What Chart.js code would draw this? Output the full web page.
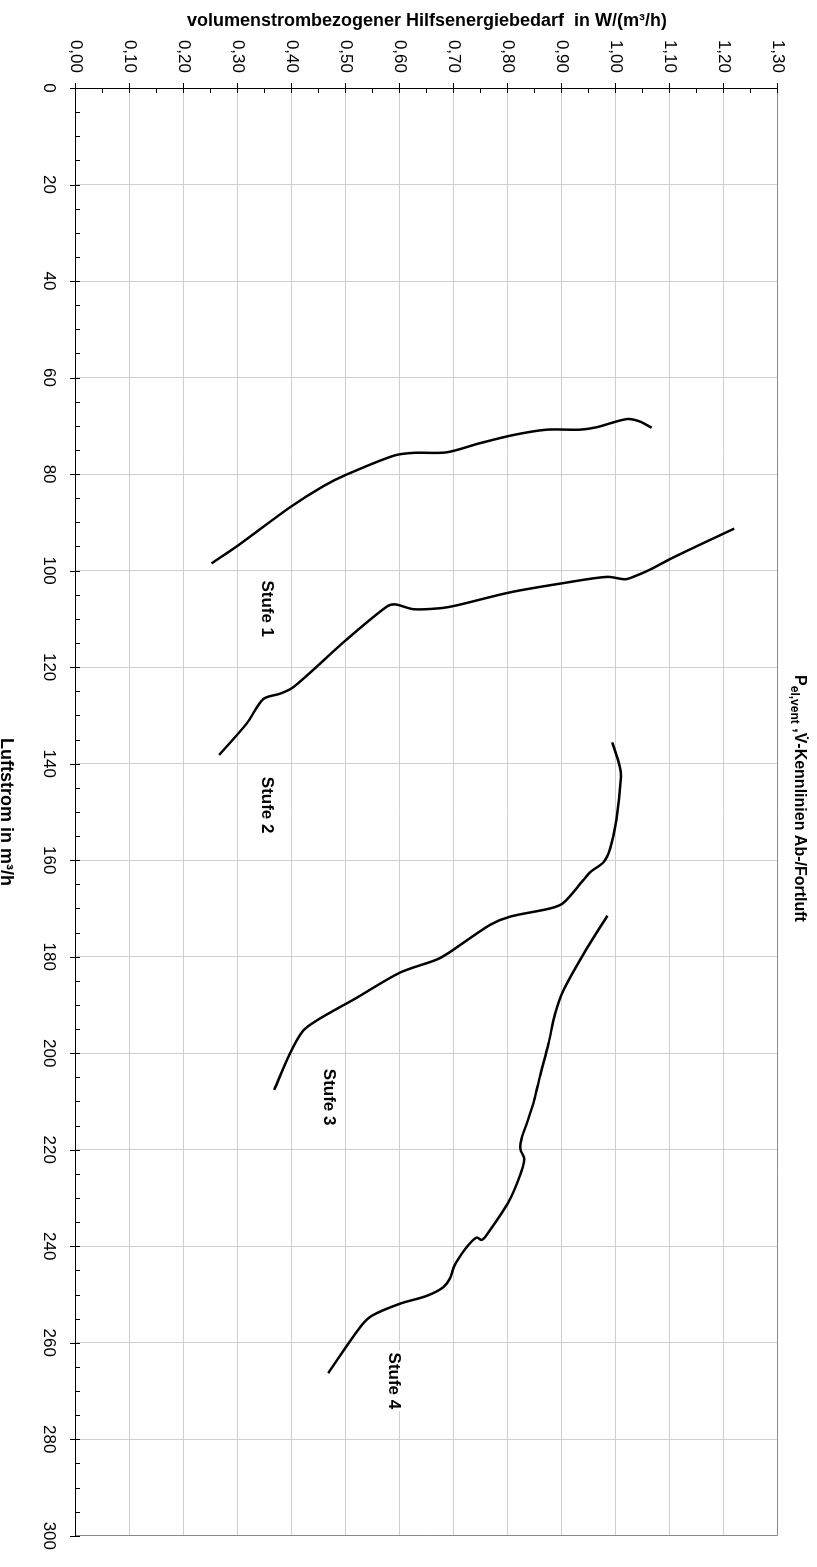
<!DOCTYPE html>
<html lang="de">
<head>
<meta charset="utf-8">
<title>Pel,vent,V-Kennlinien Ab-/Fortluft</title>
<script src="https://cdn.jsdelivr.net/npm/chart.js@4.4.1/dist/chart.umd.min.js"></script>
<style>
  html, body { margin: 0; padding: 0; background: #fff; overflow: hidden; }
  body { width: 817px; height: 1567px; position: relative; }
  /* the chart is laid out in landscape and turned a quarter turn clockwise */
  #frame {
    position: absolute; left: 0; top: 0;
    width: 1567px; height: 817px;
    transform-origin: 0 0;
    transform: translate(817px, 0) rotate(90deg);
  }
  canvas { display: block; }
</style>
</head>
<body>
<div id="frame"><canvas id="chart" width="1567" height="817"></canvas></div>
<script>
// Luftstrom in m³/h (x) and volumenstrombezogener Hilfsenergiebedarf in W/(m³/h) (y)
const stufe1Luftstrom = [98.5, 94.8, 86.9, 82.5, 80.1, 76.2, 75.6, 75.5, 73.6, 71.9, 70.8, 70.8, 70.3, 68.6, 69.1, 70.4];
const stufe1Bedarf    = [0.251, 0.300, 0.396, 0.458, 0.501, 0.588, 0.625, 0.686, 0.748, 0.810, 0.872, 0.933, 0.964, 1.020, 1.044, 1.066];

const stufe2Luftstrom = [138.2, 131.7, 126.6, 125.5, 124.2, 114.3, 107.5, 107.0, 108.0, 107.8, 107.2, 104.5, 102.6, 101.3, 101.8, 101.3, 99.8, 97.5, 94.6, 91.3];
const stufe2Bedarf    = [0.265, 0.316, 0.347, 0.378, 0.402, 0.501, 0.575, 0.591, 0.625, 0.674, 0.705, 0.804, 0.902, 0.983, 1.017, 1.032, 1.063, 1.102, 1.156, 1.219];

const stufe3Luftstrom = [135.6, 140.6, 143.3, 151.5, 157.7, 160.4, 162.5, 164.2, 168.9, 170.0, 171.7, 173.4, 179.0, 180.6, 183.3, 188.5, 193.2, 195.3, 200.1, 207.6];
const stufe3Bedarf    = [0.993, 1.007, 1.009, 1.001, 0.989, 0.977, 0.952, 0.939, 0.902, 0.878, 0.804, 0.767, 0.693, 0.668, 0.600, 0.520, 0.446, 0.421, 0.396, 0.367];

const stufe4Luftstrom = [171.5, 179.6, 187.1, 191.9, 198.0, 204.9, 210.0, 214.5, 217.8, 219.9, 221.9, 225.4, 230.8, 237.7, 238.7, 238.2, 239.7, 242.1, 244.2, 246.6, 248.5, 250.3, 251.9, 254.4, 256.8, 266.3];
const stufe4Bedarf    = [0.984, 0.939, 0.902, 0.887, 0.875, 0.859, 0.848, 0.835, 0.825, 0.823, 0.830, 0.822, 0.801, 0.760, 0.751, 0.742, 0.727, 0.711, 0.700, 0.693, 0.680, 0.649, 0.600, 0.548, 0.526, 0.467];

// curve names and where each name sits (in axis units)
const stufeNamen     = ['Stufe 1', 'Stufe 2', 'Stufe 3', 'Stufe 4'];
const namenLuftstrom = [107.9, 148.6, 209.1, 267.9];
const namenBedarf    = [0.355, 0.355, 0.469, 0.591];

// axis ranges and steps
const xMin = 0, xMax = 300, xStep = 20, xMinorStep = 5;
const yMin = 0, yMax = 1.3, yStep = 0.1, yMinorStep = 0.05;

const titelX = 'Luftstrom in m³/h';
const titelY = 'volumenstrombezogener Hilfsenergiebedarf  in W/(m³/h)';
const titelTeile = { haupt: 'P', index: 'el,vent', rest1: ' ,', vPunkt: 'V\u0307', rest2: '-Kennlinien Ab-/Fortluft' };

const FONT = "'Liberation Sans', Arial, Helvetica, sans-serif";

function toPoints(xs, ys) { return xs.map((x, i) => ({ x: x, y: ys[i] })); }

const reihen = [
  toPoints(stufe1Luftstrom, stufe1Bedarf),
  toPoints(stufe2Luftstrom, stufe2Bedarf),
  toPoints(stufe3Luftstrom, stufe3Bedarf),
  toPoints(stufe4Luftstrom, stufe4Bedarf)
];

const decorations = {
  id: 'decorations',
  beforeDatasetsDraw(chart) {
    const { ctx, chartArea: a } = chart;
    ctx.save();
    // grey frame on the two sides without an axis
    ctx.strokeStyle = '#8a8a8a';
    ctx.lineWidth = 1;
    ctx.beginPath();
    ctx.moveTo(a.left, Math.round(a.top) + 0.5);
    ctx.lineTo(Math.round(a.right) - 0.5, Math.round(a.top) + 0.5);
    ctx.lineTo(Math.round(a.right) - 0.5, a.bottom);
    ctx.stroke();
    ctx.restore();
  },
  afterDatasetsDraw(chart) {
    const { ctx } = chart;
    const xs = chart.scales.x, ys = chart.scales.y;
    ctx.save();
    ctx.font = 'bold 17px ' + FONT;
    ctx.textAlign = 'center';
    ctx.textBaseline = 'middle';
    stufeNamen.forEach((name, i) => {
      const px = xs.getPixelForValue(namenLuftstrom[i]);
      const py = ys.getPixelForValue(namenBedarf[i]);
      const w = ctx.measureText(name).width;
      ctx.fillStyle = '#ffffff';
      ctx.fillRect(px - w / 2 - 2, py - 10, w + 4, 20);
      ctx.fillStyle = '#000000';
      ctx.fillText(name, px, py + 1);
    });
    ctx.restore();
  },
  afterDraw(chart) {
    const { ctx, chartArea: a } = chart;
    const xs = chart.scales.x, ys = chart.scales.y;
    ctx.save();
    ctx.strokeStyle = '#000';
    ctx.lineWidth = 1;
    ctx.beginPath();
    // tick marks on the Luftstrom axis
    const bottom = Math.round(a.bottom);
    const nX = Math.round((xMax - xMin) / xMinorStep);
    for (let i = 0; i <= nX; i++) {
      const v = xMin + i * xMinorStep;
      const px = Math.round(xs.getPixelForValue(v)) + 0.5;
      const major = (v % xStep) === 0;
      ctx.moveTo(px, major ? bottom + 6 : bottom);
      ctx.lineTo(px, bottom - 4);
    }
    // tick marks on the Hilfsenergie axis
    const left = Math.round(a.left);
    const nY = Math.round((yMax - yMin) / yMinorStep);
    for (let i = 0; i <= nY; i++) {
      const v = yMin + i * yMinorStep;
      const py = Math.round(ys.getPixelForValue(v)) + 0.5;
      const major = i % 2 === 0;
      ctx.moveTo(major ? left - 5 : left, py);
      ctx.lineTo(left + 5, py);
    }
    ctx.stroke();

    ctx.fillStyle = '#000';
    // x axis title
    ctx.font = 'bold 18px ' + FONT;
    ctx.textAlign = 'center';
    ctx.textBaseline = 'alphabetic';
    ctx.fillText(titelX, (a.left + a.right) / 2, 816);

    // y axis title, turned to read upwards
    ctx.save();
    ctx.translate(26, (a.top + a.bottom) / 2);
    ctx.rotate(-Math.PI / 2);
    ctx.fillText(titelY, 0, 0);
    ctx.restore();

    // chart title with subscript
    const big = 'bold 16px ' + FONT, small = 'bold 12px ' + FONT;
    const parts = [
      [titelTeile.haupt, big, 0],
      [titelTeile.index, small, 4],
      [titelTeile.rest1, big, 0],
      [titelTeile.vPunkt, big, 0],
      [titelTeile.rest2, big, 0]
    ];
    let total = 0;
    parts.forEach(p => { ctx.font = p[1]; total += ctx.measureText(p[0]).width; });
    let cx = chart.width / 2 + 15 - total / 2;
    const base = 22;
    ctx.textAlign = 'left';
    parts.forEach(p => {
      ctx.font = p[1];
      ctx.fillText(p[0], cx, base + p[2]);
      cx += ctx.measureText(p[0]).width;
    });
    ctx.restore();
  }
};

new Chart(document.getElementById('chart'), {
  type: 'line',
  data: {
    datasets: reihen.map((pts, i) => ({
      label: stufeNamen[i],
      data: pts,
      borderColor: '#000000',
      borderWidth: 2.5,
      pointRadius: 0,
      tension: 0.3,
      fill: false
    }))
  },
  options: {
    responsive: false,
    devicePixelRatio: 1,
    animation: false,
    layout: { padding: { top: 39, right: 16, left: 0, bottom: 0 } },
    plugins: { legend: { display: false }, tooltip: { enabled: false }, title: { display: false } },
    scales: {
      x: {
        type: 'linear',
        min: xMin, max: xMax,
        afterFit(s) { s.height = 76; },
        ticks: {
          stepSize: xStep,
          color: '#000',
          font: { family: FONT, size: 17 },
          padding: 17,
          maxRotation: 0,
          autoSkip: false
        },
        grid: { color: '#cfcfcf', lineWidth: 1, drawTicks: false },
        border: { display: true, color: '#000', width: 1 }
      },
      y: {
        type: 'linear',
        min: yMin, max: yMax,
        afterFit(s) { s.width = 88; },
        ticks: {
          stepSize: yStep,
          color: '#000',
          font: { family: FONT, size: 17 },
          padding: 15,
          autoSkip: false,
          callback: v => Number(v).toFixed(2).replace('.', ',')
        },
        grid: { color: '#cfcfcf', lineWidth: 1, drawTicks: false },
        border: { display: true, color: '#000', width: 1 }
      }
    }
  },
  plugins: [decorations]
});
</script>
</body>
</html>
